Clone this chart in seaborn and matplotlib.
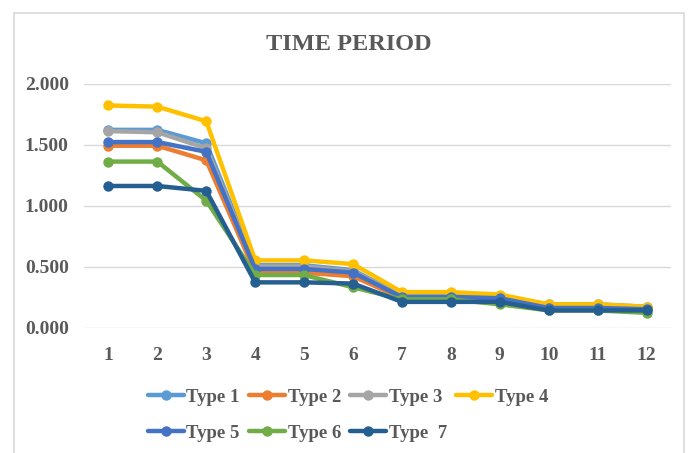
import matplotlib
matplotlib.use("Agg")
import matplotlib.pyplot as plt
import seaborn as sns
import pandas as pd
from matplotlib.patches import Rectangle

periods = [1, 2, 3, 4, 5, 6, 7, 8, 9, 10, 11, 12]
type1 = [1.62, 1.62, 1.51, 0.51, 0.51, 0.47, 0.26, 0.26, 0.25, 0.19, 0.19, 0.17]
type2 = [1.49, 1.49, 1.37, 0.45, 0.45, 0.42, 0.24, 0.24, 0.22, 0.15, 0.15, 0.14]
type3 = [1.61, 1.60, 1.47, 0.50, 0.50, 0.46, 0.26, 0.26, 0.24, 0.17, 0.17, 0.16]
type4 = [1.82, 1.81, 1.69, 0.55, 0.55, 0.52, 0.29, 0.29, 0.27, 0.19, 0.19, 0.17]
type5 = [1.52, 1.52, 1.44, 0.48, 0.48, 0.45, 0.25, 0.25, 0.24, 0.16, 0.16, 0.15]
type6 = [1.36, 1.36, 1.04, 0.43, 0.43, 0.33, 0.23, 0.23, 0.19, 0.14, 0.14, 0.12]
type7 = [1.16, 1.16, 1.12, 0.37, 0.37, 0.36, 0.21, 0.21, 0.21, 0.14, 0.14, 0.14]
labels = ["Type 1", "Type 2", "Type 3", "Type 4", "Type 5", "Type 6", "Type  7"]
series = [type1, type2, type3, type4, type5, type6, type7]
colors = ["#5B9BD5", "#ED7D31", "#A5A5A5", "#FFC000", "#4472C4", "#70AD47", "#255E91"]
yticks = [0.0, 0.5, 1.0, 1.5, 2.0]
title = "TIME PERIOD"

sns.set_theme(style="white")
plt.rcParams["font.family"] = ["Liberation Serif", "DejaVu Serif"]
plt.rcParams["font.weight"] = "bold"
txt = "#595959"

fig = plt.figure(figsize=(6.93, 4.53), dpi=100)
ax = fig.add_axes([84 / 693, 1 - 327.5 / 453, (671 - 84) / 693, (327.5 - 83.5) / 453])

rows = []
for lab, vals in zip(labels, series):
    for p, v in zip(periods, vals):
        rows.append({"period": p, "value": v, "type": lab})
df = pd.DataFrame(rows)

for lab, col in zip(labels, colors):
    sub = df[df["type"] == lab]
    sns.lineplot(data=sub, x="period", y="value", ax=ax, color=col, lw=3.2,
                 marker="o", markersize=7.5, markeredgewidth=0, label=lab,
                 solid_capstyle="round")

handles, labs = ax.get_legend_handles_labels()
if ax.get_legend() is not None:
    ax.get_legend().remove()

ax.set_xlim(0.5, 12.5)
ax.set_ylim(0, 2.0)
ax.set_xticks(periods)
ax.set_xticklabels([str(p) for p in periods])
ax.set_yticks(yticks)
ax.set_yticklabels([f"{v:.3f}" for v in yticks])
ax.set_xlabel("")
ax.set_ylabel("")
ax.grid(axis="y", color="#D9D9D9", lw=1.0)
ax.grid(axis="x", visible=False)
for s in ax.spines.values():
    s.set_visible(False)
ax.tick_params(axis="both", length=0, labelcolor=txt, labelsize=14)
ax.tick_params(axis="x", pad=14)
ax.tick_params(axis="y", pad=11)
for t in ax.get_xticklabels() + ax.get_yticklabels():
    t.set_fontweight("bold")
ax.set_axisbelow(True)

fig.text(348.5 / 693, 1 - 44 / 453, title, ha="center", va="center",
         fontsize=17.5, fontweight="bold", color=txt)

order = [0, 4, 1, 5, 2, 6, 3]
leg = fig.legend([handles[i] for i in order], [labs[i] for i in order],
                 loc="center", bbox_to_anchor=(348 / 693, 1 - 415 / 453),
                 ncol=4, frameon=False, fontsize=13.5, handlelength=1.9,
                 handletextpad=0.15, columnspacing=0.5, labelspacing=1.0,
                 borderpad=0)
for t in leg.get_texts():
    t.set_color(txt)
    t.set_fontweight("bold")

fig.patches.append(Rectangle((14 / 693, -0.05), (684 - 14) / 693, 1 - 13 / 453 + 0.05,
                             transform=fig.transFigure, fill=False,
                             edgecolor="#D9D9D9", lw=1.2, zorder=0))

fig.savefig("out.png", dpi=100)
